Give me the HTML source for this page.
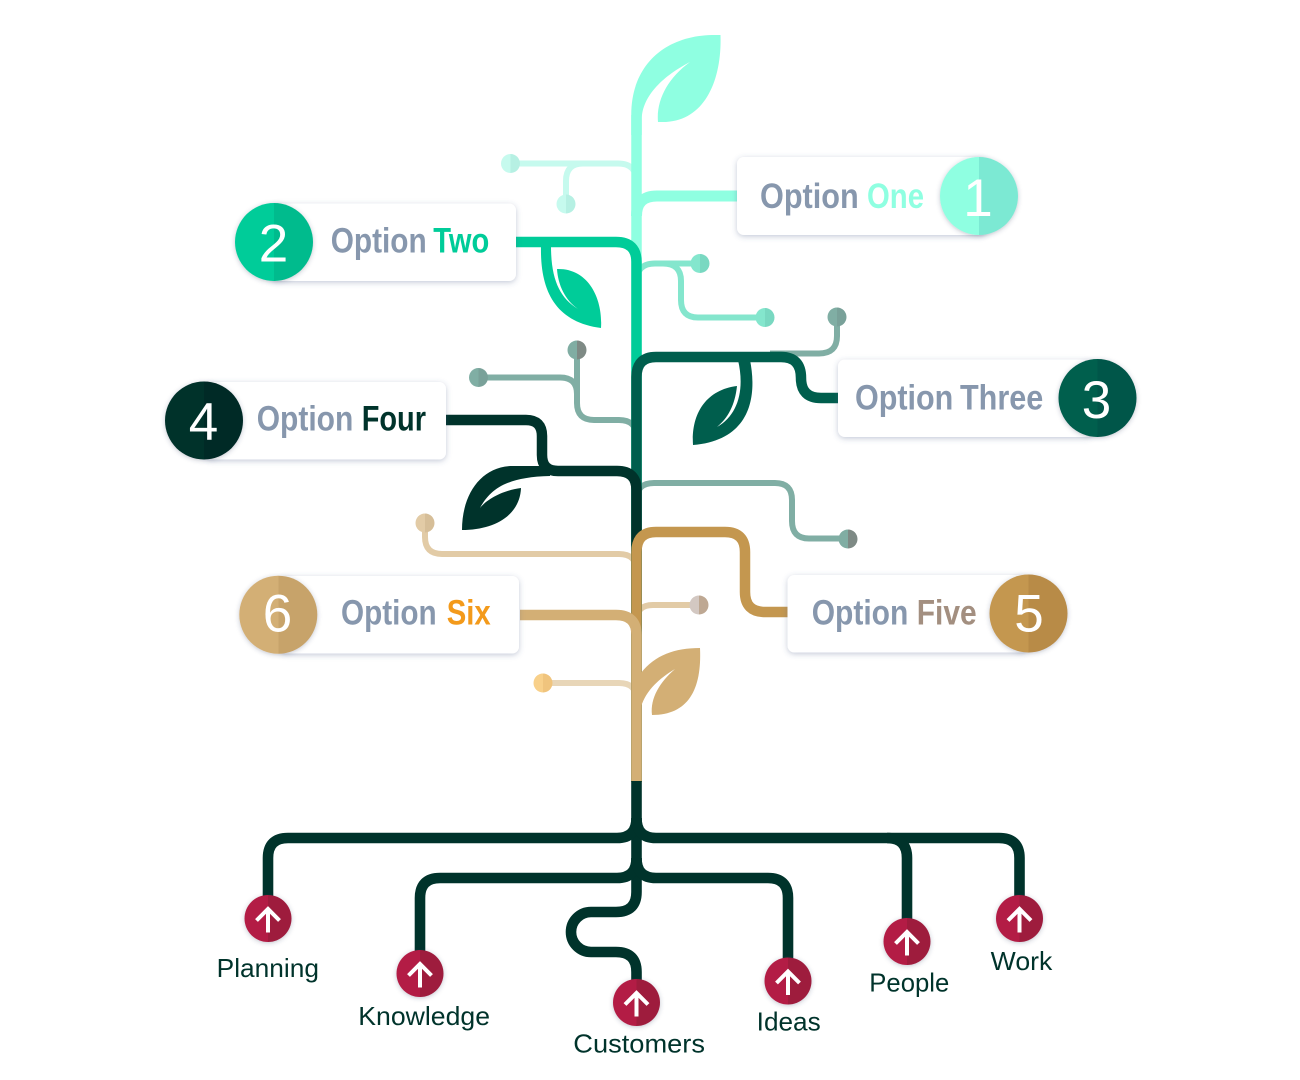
<!DOCTYPE html>
<html><head><meta charset="utf-8"><style>
html,body{margin:0;padding:0;background:#fff;}
svg{display:block;}
text{font-family:"Liberation Sans",sans-serif;}
</style></head><body>
<svg width="1300" height="1080" viewBox="0 0 1300 1080" xmlns="http://www.w3.org/2000/svg">
<defs>
<linearGradient id="gML" x1="0" x2="1"><stop offset="0.5" stop-color="#C6FAEE"/><stop offset="0.5" stop-color="#B6F0E3"/></linearGradient>
<linearGradient id="gMM" x1="0" x2="1"><stop offset="0.5" stop-color="#84E6CD"/><stop offset="0.5" stop-color="#79D8C1"/></linearGradient>
<linearGradient id="gG1" x1="0" x2="1"><stop offset="0.5" stop-color="#80AEA4"/><stop offset="0.5" stop-color="#79A199"/></linearGradient>
<linearGradient id="gG2" x1="0" x2="1"><stop offset="0.5" stop-color="#80ADA3"/><stop offset="0.5" stop-color="#7E8A85"/></linearGradient>
<linearGradient id="gGL" x1="0" x2="1"><stop offset="0.5" stop-color="#E2CBA6"/><stop offset="0.5" stop-color="#D6BE98"/></linearGradient>
<linearGradient id="gPG" x1="0" x2="1"><stop offset="0.5" stop-color="#D3C8C2"/><stop offset="0.5" stop-color="#BEA893"/></linearGradient>
<linearGradient id="gOR" x1="0" x2="1"><stop offset="0.5" stop-color="#F8D08A"/><stop offset="0.5" stop-color="#F0C47D"/></linearGradient>
<linearGradient id="c1" x1="0" x2="1"><stop offset="0.5" stop-color="#8FFFE1"/><stop offset="0.5" stop-color="#7CE9D3"/></linearGradient>
<linearGradient id="c2" x1="0" x2="1"><stop offset="0.5" stop-color="#00CC99"/><stop offset="0.5" stop-color="#00BB8D"/></linearGradient>
<linearGradient id="c3" x1="0" x2="1"><stop offset="0.5" stop-color="#005E4D"/><stop offset="0.5" stop-color="#00574A"/></linearGradient>
<linearGradient id="c4" x1="0" x2="1"><stop offset="0.5" stop-color="#00332B"/><stop offset="0.5" stop-color="#002B25"/></linearGradient>
<linearGradient id="c5" x1="0" x2="1"><stop offset="0.5" stop-color="#C4974F"/><stop offset="0.5" stop-color="#B88B46"/></linearGradient>
<linearGradient id="c6" x1="0" x2="1"><stop offset="0.5" stop-color="#D3AF75"/><stop offset="0.5" stop-color="#C7A36A"/></linearGradient>
<linearGradient id="cr" x1="0" x2="1"><stop offset="0.5" stop-color="#B31E45"/><stop offset="0.5" stop-color="#9E1A3E"/></linearGradient>
<filter id="sh" x="-15%" y="-30%" width="130%" height="160%"><feDropShadow dx="0" dy="1.5" stdDeviation="3" flood-color="#4a5a85" flood-opacity="0.32"/></filter>
<filter id="shc" x="-30%" y="-30%" width="160%" height="160%"><feDropShadow dx="0" dy="1" stdDeviation="2.5" flood-color="#3a4060" flood-opacity="0.3"/></filter>
</defs>

<!-- small branches -->
<g fill="none" stroke-width="6">
 <path d="M510,163.5 L618,163.5 Q636.5,163.5 636.5,182" stroke="#C6FAEE"/>
 <path d="M566,204 L566,181 Q566,163.5 583,163.5" stroke="#C6FAEE"/>
 <path d="M700,263.5 L655,263.5 Q636.5,263.5 636.5,282" stroke="#84E6CD"/>
 <path d="M663,263.5 Q681,263.5 681,281 L681,300 Q681,317.5 698,317.5 L765,317.5" stroke="#84E6CD"/>
 <path d="M837,317 L837,336 Q837,353.5 819,353.5 L770,353.5" stroke="#80AEA4"/>
 <path d="M478,377.5 L560,377.5 Q577,377.5 577,394" stroke="#80AEA4"/>
 <path d="M577,350 L577,403 Q577,420 594,420 L619,420 Q636.5,420 636.5,437" stroke="#80AEA4"/>
 <path d="M636.5,500 Q636.5,483 654,483 L775,483 Q792,483 792,500 L792,521 Q792,538.5 809,538.5 L848,538.5" stroke="#80AEA4"/>
 <path d="M425,523 L425,537 Q425,554 442,554 L619,554 Q636.5,554 636.5,571" stroke="#E2CBA6"/>
 <path d="M699,605 L653,605 Q636.5,605 636.5,621" stroke="#E2CBA6"/>
 <path d="M543,683 L619,683 Q636.5,683 636.5,700" stroke="#E8D6B8"/>
</g>
<g>
 <circle cx="510.5" cy="163.5" r="9.5" fill="url(#gML)"/>
 <circle cx="566" cy="204" r="9.5" fill="url(#gML)"/>
 <circle cx="700" cy="263.5" r="9.5" fill="url(#gMM)"/>
 <circle cx="765" cy="317.5" r="9.5" fill="url(#gMM)"/>
 <circle cx="837" cy="317" r="9.5" fill="url(#gG1)"/>
 <circle cx="577" cy="350" r="9.5" fill="url(#gG2)"/>
 <circle cx="478.5" cy="377.5" r="9.5" fill="url(#gG1)"/>
 <circle cx="848" cy="539" r="9.5" fill="url(#gG2)"/>
 <circle cx="425" cy="523" r="9.5" fill="url(#gGL)"/>
 <circle cx="699" cy="605" r="9.5" fill="url(#gPG)"/>
 <circle cx="543" cy="683" r="9.5" fill="url(#gOR)"/>
</g>

<!-- main stems -->
<g fill="none" stroke-width="10.5">
 <path d="M636.5,115 L636.5,782" stroke="#8FFFE1"/>
 <path d="M737,196 L657,196 Q636.5,196 636.5,216" stroke="#8FFFE1" stroke-width="11"/>
</g>
<path d="M631.25,135 L631.25,115 C631.25,65 665,36 712,35 L720.5,35 C722,80 705,120 666,122 L658,122 C656,100 668,78 690,62 C665,75 641.75,95 641.75,120 L641.75,135 Z" fill="#8FFFE1"/>

<path d="M516,242 L616,242 Q636.5,242 636.5,262 L636.5,782" stroke="#00CC99" stroke-width="10.5" fill="none"/>
<path d="M541,246 C540,292 556,322 601,328 C603,298 588,268 557,269 C558,285 565,300 578,309 C560,298 551,280 551,246 Z" fill="#00CC99"/>

<path d="M838,398 L821,398 Q801,398 801,378 Q801,357 781,357 L656,357 Q636.5,357 636.5,377 L636.5,782" stroke="#005E4D" stroke-width="10.5" fill="none"/>
<path d="M738,360 L750,360 C757,395 752,440 693,445 C691,415 705,390 737,386 C735,405 728,418 717,427 C738,415 745,390 738,360 Z" fill="#005E4D"/>

<path d="M446,420 L526,420 Q542,420 542,436 L542,455 Q542,471 558,471 L617,471 Q636.5,471 636.5,490 L636.5,782" stroke="#00332B" stroke-width="10.5" fill="none"/>
<path d="M550,466 L510,466 C480,468 462,495 462,530 C495,530 520,515 521,488 C505,490 488,498 480,508 C490,490 505,477 550,476 Z" fill="#00332B"/>

<path d="M788,612 L765,612 Q745,612 745,592 L745,552 Q745,532 725,532 L656,532 Q636.5,532 636.5,552 L636.5,782" stroke="#C4974F" stroke-width="10.5" fill="none"/>
<path d="M520,615 L616,615 Q636.5,615 636.5,635 L636.5,782" stroke="#D3AF75" stroke-width="10.5" fill="none"/>
<path d="M641,673 C655,655 675,648 700,648 C702,690 688,715 652,715 C650,698 660,682 675,669 C660,678 646,690 641,707 Z" fill="#D3AF75"/>

<!-- roots -->
<g fill="none" stroke="#00332B" stroke-width="10.6">
 <path d="M636.5,781 L636.5,892 Q636.5,912 616,912 L591,912 A20,20 0 0 0 591,952 L616,952 Q636.5,952 636.5,972 L636.5,985"/>
 <path d="M268,905 L268,858 Q268,838 288,838 L617,838 Q636.5,838 636.5,818"/>
 <path d="M636.5,818 Q636.5,838 656,838 L999,838 Q1019.5,838 1019.5,858 L1019.5,905"/>
 <path d="M887,838 Q907,838 907,858 L907,925"/>
 <path d="M420,960 L420,898 Q420,878 440,878 L617,878 Q636.5,878 636.5,858"/>
 <path d="M636.5,858 Q636.5,878 656,878 L768,878 Q788,878 788,898 L788,965"/>
</g>

<!-- root circles -->
<g filter="url(#shc)">
 <circle cx="268" cy="918.5" r="23.5" fill="url(#cr)"/>
 <circle cx="420" cy="973.5" r="23.5" fill="url(#cr)"/>
 <circle cx="636.5" cy="1002.5" r="23.5" fill="url(#cr)"/>
 <circle cx="788" cy="981" r="23.5" fill="url(#cr)"/>
 <circle cx="907" cy="941.5" r="23.5" fill="url(#cr)"/>
 <circle cx="1019.5" cy="918.5" r="23.5" fill="url(#cr)"/>
</g>
<g fill="none" stroke="#fff" stroke-width="4" stroke-linejoin="miter">
 <path d="M268,932.5 L268,910 M256.5,920.5 L268,909 L279.5,920.5"/>
 <path d="M420,987.5 L420,965 M408.5,975.5 L420,964 L431.5,975.5"/>
 <path d="M636.5,1016.5 L636.5,994 M625,1004.5 L636.5,993 L648,1004.5"/>
 <path d="M788,995 L788,972.5 M776.5,983 L788,971.5 L799.5,983"/>
 <path d="M907,955.5 L907,933 M895.5,943.5 L907,932 L918.5,943.5"/>
 <path d="M1019.5,932.5 L1019.5,910 M1008,920.5 L1019.5,909 L1031,920.5"/>
</g>
<g font-size="26" fill="#00332B">
 <text x="216.7" y="977" textLength="102.3" lengthAdjust="spacingAndGlyphs">Planning</text>
 <text x="358.3" y="1025" textLength="131.7" lengthAdjust="spacingAndGlyphs">Knowledge</text>
 <text x="573.3" y="1052.7" textLength="131.7" lengthAdjust="spacingAndGlyphs">Customers</text>
 <text x="756.7" y="1030.7" textLength="64" lengthAdjust="spacingAndGlyphs">Ideas</text>
 <text x="869.3" y="991.7" textLength="80" lengthAdjust="spacingAndGlyphs">People</text>
 <text x="990.7" y="970" textLength="61.6" lengthAdjust="spacingAndGlyphs">Work</text>
</g>

<!-- option boxes -->
<g fill="#fff" filter="url(#sh)">
 <rect x="737" y="157" width="250" height="78" rx="7"/>
 <rect x="270" y="203.5" width="246" height="77.5" rx="7"/>
 <rect x="205" y="382" width="241" height="77.5" rx="7"/>
 <rect x="838" y="359.5" width="255" height="77.5" rx="7"/>
 <rect x="787.5" y="575" width="240" height="77.5" rx="7"/>
 <rect x="280" y="576" width="239" height="77.5" rx="7"/>
</g>
<g filter="url(#shc)">
 <circle cx="979" cy="196" r="39" fill="url(#c1)"/>
 <circle cx="274" cy="242" r="39" fill="url(#c2)"/>
 <circle cx="1097.5" cy="398" r="39" fill="url(#c3)"/>
 <circle cx="204" cy="420.5" r="39" fill="url(#c4)"/>
 <circle cx="1028.5" cy="613.5" r="39" fill="url(#c5)"/>
 <circle cx="278.3" cy="614.7" r="39" fill="url(#c6)"/>
</g>
<g font-size="53" fill="#fff" text-anchor="middle">
 <text x="978" y="216">1</text>
 <text x="273.5" y="261.5">2</text>
 <text x="1096.5" y="418">3</text>
 <text x="203.5" y="440">4</text>
 <text x="1029" y="631.5">5</text>
 <text x="277.5" y="631.5">6</text>
</g>
<g font-size="35" font-weight="bold">
 <text x="760" y="208" fill="#8797AD" textLength="98.7" lengthAdjust="spacingAndGlyphs">Option</text>
 <text x="867" y="208" fill="#8FFFE1" textLength="57" lengthAdjust="spacingAndGlyphs">One</text>
 <text x="330.7" y="252.7" fill="#8797AD" textLength="96" lengthAdjust="spacingAndGlyphs">Option</text>
 <text x="433.3" y="252.7" fill="#00CC99" textLength="56" lengthAdjust="spacingAndGlyphs">Two</text>
 <text x="256.7" y="430.7" fill="#8797AD" textLength="96.6" lengthAdjust="spacingAndGlyphs">Option</text>
 <text x="361.7" y="430.7" fill="#00332B" textLength="64.3" lengthAdjust="spacingAndGlyphs">Four</text>
 <text x="855" y="409.3" fill="#8797AD" textLength="98.3" lengthAdjust="spacingAndGlyphs">Option</text>
 <text x="960" y="409.3" fill="#8797AD" textLength="83.3" lengthAdjust="spacingAndGlyphs">Three</text>
 <text x="811.7" y="624.3" fill="#8797AD" textLength="96.6" lengthAdjust="spacingAndGlyphs">Option</text>
 <text x="916.7" y="624.3" fill="#A38F80" textLength="60" lengthAdjust="spacingAndGlyphs">Five</text>
 <text x="341" y="624.3" fill="#8797AD" textLength="95.7" lengthAdjust="spacingAndGlyphs">Option</text>
 <text x="446.7" y="624.3" fill="#F39A1B" textLength="44" lengthAdjust="spacingAndGlyphs">Six</text>
</g>
</svg>
</body></html>
